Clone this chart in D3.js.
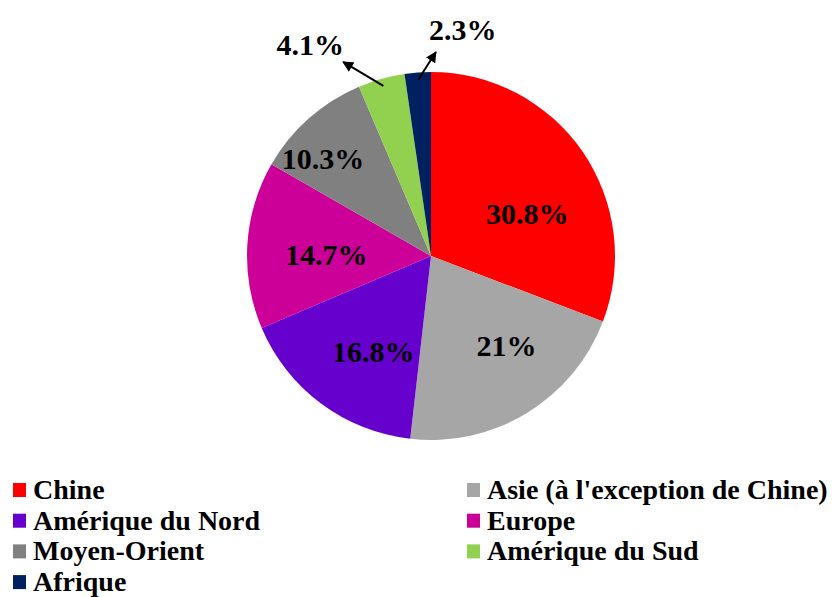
<!DOCTYPE html>
<meta charset="utf-8">
<style>
body { margin: 0; background: #fff; }
</style>
<body>
<div id="chart"></div>
<script src="https://d3js.org/d3.v7.min.js"></script>
<script>
// data
const regions = ["Chine", "Asie (à l'exception de Chine)", "Amérique du Nord", "Europe", "Moyen-Orient", "Amérique du Sud", "Afrique"];
const shares = [30.8, 21, 16.8, 14.7, 10.3, 4.1, 2.3];
const shareLabels = ["30.8%", "21%", "16.8%", "14.7%", "10.3%", "4.1%", "2.3%"];
const colors = ["#ff0000", "#a6a6a6", "#6600cc", "#cc0099", "#808080", "#92d050", "#002060"];

const width = 832, height = 597;
const cx = 431, cy = 256, r = 184;
const fontFam = "Liberation Serif";

// label placement tweaks (degrees off mid-angle, fraction of radius), like excel "best fit"
const labelNudge = [[11, 0.57], [-8.6, 0.64], [-5.7, 0.61], [-2.9, 0.57], [-6.4, 0.79]];
// callouts for the thin slices: angle shift of arrow tip, extra radius, text offset
const callouts = {5: {da: -8.7, dr: 29, tx: -33, ty: -17}, 6: {da: 5.5, dr: 20, tx: 27, ty: -22}};

const svg = d3.select("#chart").append("svg")
	.attr("width", width)
	.attr("height", height);

svg.append("defs").append("marker")
	.attr("id", "arrow")
	.attr("viewBox", "0 0 10 10")
	.attr("refX", 9).attr("refY", 5)
	.attr("markerWidth", 5.5).attr("markerHeight", 5.5)
	.attr("orient", "auto")
  .append("path")
	.attr("d", "M0,0L10,5L0,10z")
	.attr("fill", "#000");

const pie = d3.pie().sort(null).value(d => d);
const arcs = pie(shares);
const arc = d3.arc().innerRadius(0).outerRadius(r);

const g = svg.append("g").attr("transform", `translate(${cx},${cy})`);

g.selectAll("path.slice")
	.data(arcs)
  .enter().append("path")
	.attr("class", "slice")
	.attr("d", arc)
	.attr("fill", (d, i) => colors[i]);

function polar(angleRad, rad) {
	return [Math.sin(angleRad) * rad, -Math.cos(angleRad) * rad];
}
const deg = Math.PI / 180;

arcs.forEach(function(d, i) {
	const mid = (d.startAngle + d.endAngle) / 2;
	let p;
	if (callouts[i]) {
		const c = callouts[i];
		const p0 = polar(mid, r * 0.96);
		const p1 = polar(mid + c.da * deg, r + c.dr);
		g.append("line")
			.attr("x1", p0[0]).attr("y1", p0[1])
			.attr("x2", p1[0]).attr("y2", p1[1])
			.attr("stroke", "#000")
			.attr("stroke-width", 2)
			.attr("marker-end", "url(#arrow)");
		p = [p1[0] + c.tx, p1[1] + c.ty];
	} else {
		const n = labelNudge[i];
		p = polar(mid + n[0] * deg, r * n[1]);
	}
	g.append("text")
		.attr("x", p[0]).attr("y", p[1] + 10)
		.attr("text-anchor", "middle")
		.attr("font-family", fontFam)
		.attr("font-weight", "bold")
		.attr("font-size", 30)
		.text(shareLabels[i]);
});

// legend, two columns
const legend = svg.append("g").attr("transform", "translate(13,490)");
const item = legend.selectAll("g.item")
	.data(regions)
  .enter().append("g")
	.attr("class", "item")
	.attr("transform", (d, i) => `translate(${(i % 2) * 454},${Math.floor(i / 2) * 30.7})`);

item.append("rect")
	.attr("x", 0).attr("y", -7)
	.attr("width", 13).attr("height", 14)
	.attr("fill", (d, i) => colors[i]);

item.append("text")
	.attr("x", 20).attr("y", 9)
	.attr("font-family", fontFam)
	.attr("font-weight", "bold")
	.attr("font-size", 28)
	.text(d => d);
</script>
</body>
